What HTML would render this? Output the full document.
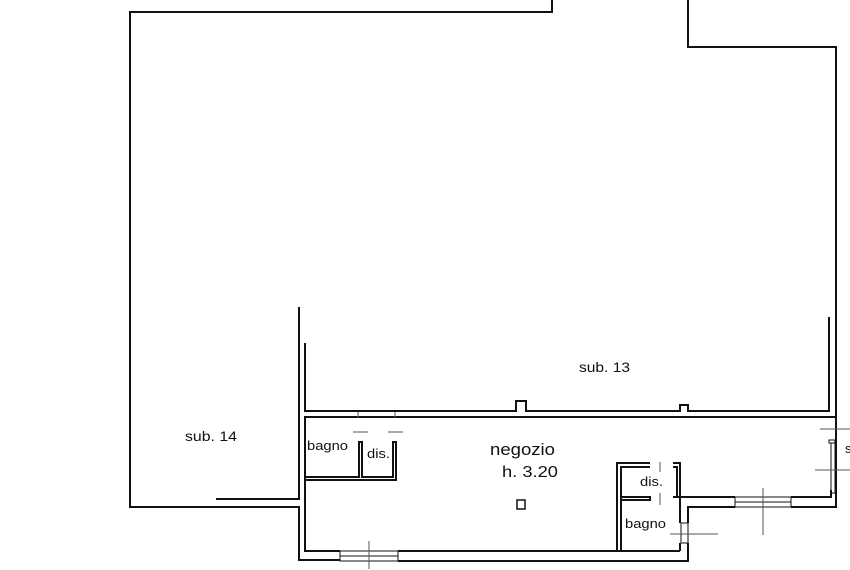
<!DOCTYPE html>
<html><head><style>body{margin:0;background:#fff}svg{display:block}text{font-family:"Liberation Sans",sans-serif;fill:#111}</style></head><body>
<svg width="850" height="570" viewBox="0 0 850 570" xmlns="http://www.w3.org/2000/svg">
<g fill="none" stroke="#111" stroke-width="2">
<polyline points="552,0 552,12 130,12 130,507 299,507 299,560 340,560"/>
<polyline points="688,0 688,47 836,47 836,417 526,417"/>
<polyline points="516,417 305,417 305,551 340,551"/>
<polyline points="299,307 299,499 216,499"/>
<polyline points="305,343 305,411 516,411 516,401 526,401 526,411 680,411 680,405 688,405 688,411 829,411 829,317"/>
<line x1="526" y1="417" x2="516" y2="417"/>
<polyline points="398,551 617,551"/>
<polyline points="398,561 688,561 688,543"/>
<polyline points="688,523 688,507 735,507"/>
<polyline points="680,523 680,503 680,497 735,497"/>
<line x1="680" y1="543" x2="680" y2="551"/>
<polyline points="791,497 831,497 831,490"/>
<polyline points="791,507 836,507 836,417"/>
<polyline points="305,477 359,477 359,442 362,442 362,477 393,477 393,442 396,442 396,480 305,480"/>
<polyline points="650,463 617,463 617,551 680,551"/>
<polyline points="650,467 621,467 621,551"/>
<polyline points="621,497 650,497 650,500 621,500"/>
<polyline points="673,463 680,463 680,497 673,497"/>
<polyline points="673,467 677,467 677,497"/>
</g>
<g fill="none" stroke="#111" stroke-width="1">
<rect x="340" y="551" width="58" height="10"/>
<line x1="340" y1="556" x2="398" y2="556"/>
<rect x="735" y="497" width="56" height="10"/>
<line x1="735" y1="502" x2="791" y2="502"/>
<rect x="681" y="523" width="7" height="20"/>
<rect x="831" y="443" width="4" height="50"/>
<rect x="829" y="440" width="6" height="3"/>
<line x1="836" y1="443" x2="836" y2="497"/>
</g>
<g stroke="#555" stroke-width="1">
<line x1="369" y1="541" x2="369" y2="569"/>
<line x1="763" y1="488" x2="763" y2="535"/>
<line x1="670" y1="534" x2="718" y2="534"/>
<line x1="820" y1="429" x2="850" y2="429"/>
<line x1="815" y1="470" x2="850" y2="470"/>
<line x1="353" y1="432" x2="368" y2="432"/>
<line x1="388" y1="432" x2="403" y2="432"/>
<line x1="660" y1="462" x2="660" y2="472"/>
<line x1="660" y1="493" x2="660" y2="505"/>
<line x1="358" y1="412" x2="358" y2="418"/>
<line x1="395" y1="412" x2="395" y2="418"/>
</g>
<rect x="517" y="500" width="8" height="9" fill="none" stroke="#111" stroke-width="1.5"/>
<text x="579" y="372" font-size="14" textLength="51" lengthAdjust="spacingAndGlyphs">sub. 13</text>
<text x="185" y="441" font-size="14" textLength="52" lengthAdjust="spacingAndGlyphs">sub. 14</text>
<text x="490" y="455" font-size="17" textLength="65" lengthAdjust="spacingAndGlyphs">negozio</text>
<text x="502" y="477" font-size="16" textLength="56" lengthAdjust="spacingAndGlyphs">h. 3.20</text>
<text x="307" y="450" font-size="13" textLength="41" lengthAdjust="spacingAndGlyphs">bagno</text>
<text x="367" y="458" font-size="13" textLength="23" lengthAdjust="spacingAndGlyphs">dis.</text>
<text x="640" y="486" font-size="13" textLength="23" lengthAdjust="spacingAndGlyphs">dis.</text>
<text x="625" y="528" font-size="13" textLength="41" lengthAdjust="spacingAndGlyphs">bagno</text>
<text x="845" y="453" font-size="13">s</text>
</svg>
</body></html>
